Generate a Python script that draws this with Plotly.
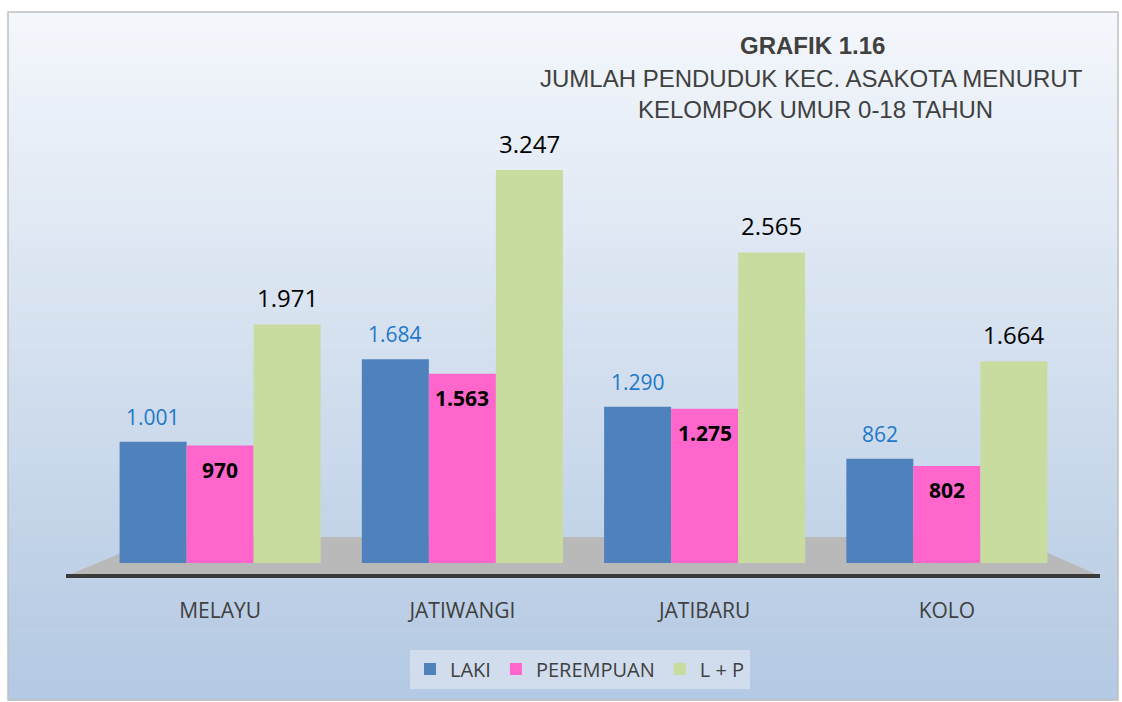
import plotly.graph_objects as go

categories = ["MELAYU", "JATIWANGI", "JATIBARU", "KOLO"]
laki = [1001, 1684, 1290, 862]
perempuan = [970, 1563, 1275, 802]
total = [1971, 3247, 2565, 1664]

W, H = 1122, 702
L, R, T, B = 99, 1122 - 1068, 139, 702 - 563
PW, PH = W - L - R, H - T - B
BARGAP = 0.17
NCAT = len(categories)
BAR_PX = PW / NCAT * (1 - BARGAP) / 3


def px(x):
    return (x - L) / PW


def py(y):
    return (H - B - y) / PH


shapes = []
top_c = (244, 247, 252)
bot_c = (180, 201, 227)
y0, y1 = 12, 700
N = 70
for i in range(N):
    t = i / (N - 1)
    c = tuple(int(top_c[k] + (bot_c[k] - top_c[k]) * t) for k in range(3))
    ya = y0 + (y1 - y0) * i / N
    yb = y0 + (y1 - y0) * (i + 1) / N + 0.6
    shapes.append(dict(type="rect", xref="paper", yref="paper", layer="below",
                       x0=px(8), x1=px(1118), y0=py(ya), y1=py(yb),
                       line=dict(width=0), fillcolor="rgb(%d,%d,%d)" % c))
shapes.append(dict(type="rect", xref="paper", yref="paper", layer="below",
                   x0=px(8), x1=px(1118), y0=py(12), y1=py(700),
                   line=dict(color="#c0c0c0", width=1.5), fillcolor="rgba(0,0,0,0)"))
path = "M %f,%f L %f,%f L %f,%f L %f,%f Z" % (
    px(66), py(576), px(160), py(537), px(1012), py(537), px(1100), py(576))
shapes.append(dict(type="path", xref="paper", yref="paper", layer="below",
                   path=path, fillcolor="#b9b9b9", line=dict(width=0)))
shapes.append(dict(type="line", xref="paper", yref="paper", layer="below",
                   x0=px(66), x1=px(1100), y0=py(576), y1=py(576),
                   line=dict(color="#3a3a3a", width=4)))

fig = go.Figure()
fig.add_trace(go.Bar(name="LAKI", x=categories, y=laki,
                     marker=dict(color="#4f81bd", line=dict(width=0))))
fig.add_trace(go.Bar(name="PEREMPUAN", x=categories, y=perempuan,
                     marker=dict(color="#ff66cc", line=dict(width=0))))
fig.add_trace(go.Bar(name="L + P", x=categories, y=total,
                     marker=dict(color="#c9dca0", line=dict(width=0))))


def fmt(v):
    return "{:,}".format(v).replace(",", ".")


annotations = []
label_specs = [
    (laki, -1, 25, "%s", 21, "#1f78c8"),
    (perempuan, 0, -24, "<b>%s</b>", 21, "#000000"),
    (total, 1, 27, "%s", 24, "#000000"),
]
for vals, k, ysh, tpl, size, color in label_specs:
    for cat, v in zip(categories, vals):
        annotations.append(dict(
            x=cat, y=v, xref="x", yref="y", text=tpl % fmt(v), showarrow=False,
            xshift=k * BAR_PX, yshift=ysh, xanchor="center", yanchor="middle",
            font=dict(family="Open Sans, Calibri, sans-serif", size=size, color=color)))

TFONT = "Liberation Sans, Arial, sans-serif"
annotations += [
    dict(text="<b>GRAFIK 1.16</b>", x=px(812), y=py(45), xref="paper", yref="paper",
         showarrow=False, xanchor="center", yanchor="middle",
         font=dict(family=TFONT, size=24, color="#404040")),
    dict(text="JUMLAH PENDUDUK KEC. ASAKOTA MENURUT", x=px(811), y=py(78), xref="paper", yref="paper",
         showarrow=False, xanchor="center", yanchor="middle",
         font=dict(family=TFONT, size=24, color="#404040")),
    dict(text="KELOMPOK UMUR 0-18 TAHUN", x=px(815), y=py(109), xref="paper", yref="paper",
         showarrow=False, xanchor="center", yanchor="middle",
         font=dict(family=TFONT, size=24, color="#404040")),
]

fig.update_layout(
    width=W, height=H,
    margin=dict(l=L, r=R, t=T, b=B, pad=0),
    paper_bgcolor="white", plot_bgcolor="rgba(0,0,0,0)",
    barmode="group", bargap=BARGAP, bargroupgap=0,
    shapes=shapes, annotations=annotations,
    xaxis=dict(showgrid=False, zeroline=False, showline=False, ticks="",
               ticklabelstandoff=33,
               tickfont=dict(family="Open Sans, Calibri, sans-serif", size=21, color="#404040")),
    yaxis=dict(range=[0, PH / (393 / 3247)], visible=False, showgrid=False, zeroline=False),
    legend=dict(orientation="h", x=px(580), xanchor="center", y=py(669), yanchor="middle",
                bgcolor="rgba(214,225,238,0.85)", borderwidth=0,
                font=dict(family="Open Sans, Calibri, sans-serif", size=20, color="#404040"),
                itemwidth=30, tracegroupgap=0),
    showlegend=True,
)

fig.write_html(
    "out.html",
    config={"displayModeBar": False},
    post_script="document.body.style.margin='0';document.body.style.padding='0';"
                "document.documentElement.style.overflow='hidden';"
                "document.body.style.overflow='hidden';",
)
